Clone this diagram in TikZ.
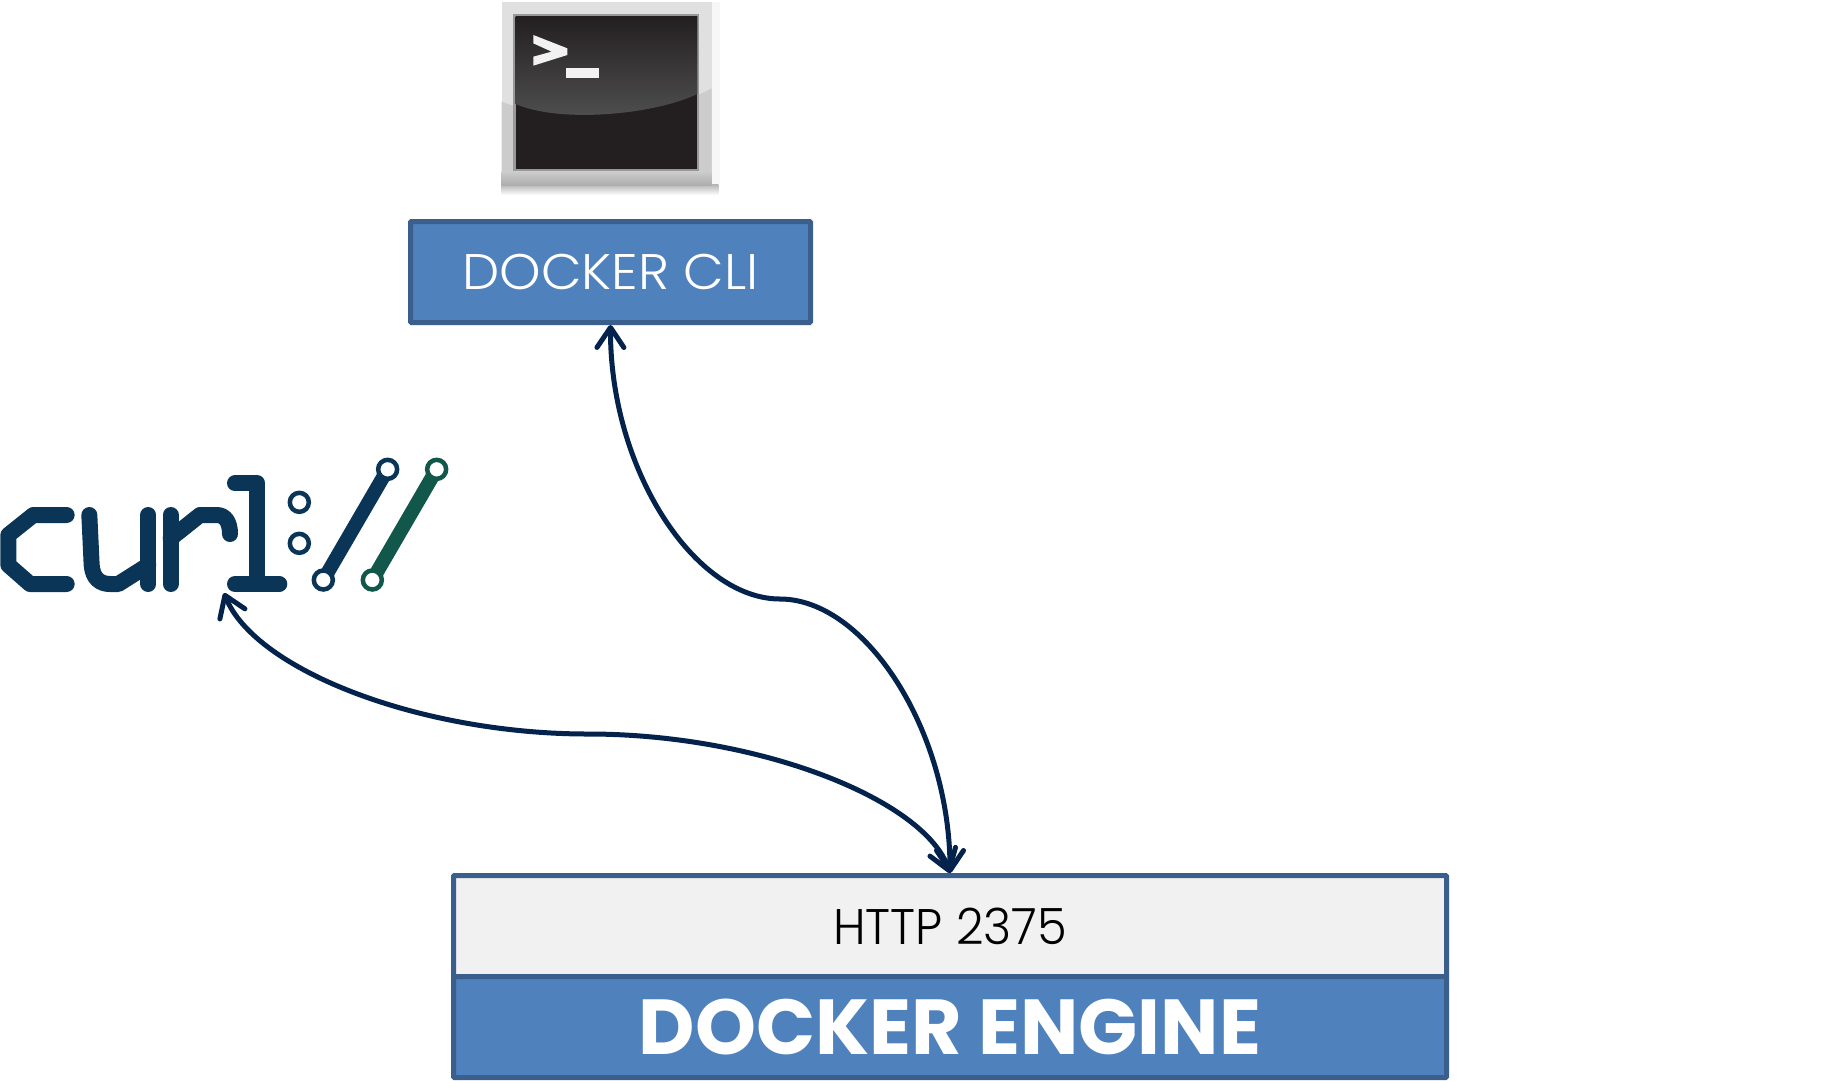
\documentclass[tikz,border=0pt]{standalone}
\usepackage{fontspec}
\setmainfont{Poppins}[UprightFont=* Light,BoldFont=* Bold]
\usetikzlibrary{arrows.meta}
\definecolor{boxblue}{HTML}{4F81BD}
\definecolor{boxline}{HTML}{3A5F8C}
\definecolor{panel}{HTML}{F1F1F1}
\definecolor{arrowc}{HTML}{03224C}
\definecolor{curlnavy}{HTML}{0B3556}
\definecolor{curlgreen}{HTML}{11574A}
\definecolor{termdark}{HTML}{231F20}
\tikzset{
  boxstyle/.style={draw=boxline,line width=5pt,inner sep=0pt,outer sep=.5\pgflinewidth,rounded corners=1pt,anchor=center},
  link/.style={draw=arrowc,line width=5pt,{Straight Barb[length=20pt,width=27pt,round]}-{Straight Barb[length=20pt,width=27pt,round]}},
  logo/.style={line width=16pt,line cap=round,line join=round,color=curlnavy},
  ringn/.style={draw=curlnavy,fill=white,line width=4.5pt,circle,minimum size=19pt,inner sep=0pt}
}
\begin{document}
\begin{tikzpicture}[x=1pt,y=-1pt]
\useasboundingbox (0,0) rectangle (1821,1080);
% terminal icon
\begin{scope}[shift={(480,0)},scale=1/3]
  \fill[black!3] (695,5) rectangle (720,555);
  \shade[top color=black!30,bottom color=white] (65,552) rectangle (715,585);
  \fill[black!12] (65,5) rectangle (695,555);
  \fill[black!20] (65,305) .. controls (240,375) and (520,360) .. (695,265) -- (695,555) -- (65,555) -- cycle;
  \shade[top color=black!20,bottom color=black!32] (65,515) rectangle (695,555);
  \fill[black!40] (100,42) rectangle (656,512);
  \fill[termdark] (107,48) rectangle (652,508);
  \shade[top color=termdark,bottom color=black!68]
      (107,48) -- (652,48) -- (652,282) .. controls (520,345) and (240,370) .. (107,312) -- cycle;
  \fill[white!95!black] (160,105) -- (262,145) -- (262,165) -- (160,197) -- (160,170) -- (215,155) -- (160,130) -- cycle;
  \fill[white!95!black] (258,205) rectangle (358,233);
\end{scope}
% boxes
\node[boxstyle,fill=boxblue,minimum width=400pt,minimum height=101pt,text=white] (cli) at (610.5,272) {\raisebox{-1pt}{\scalebox{1.055}[1]{\fontsize{50}{60}\selectfont DOCKER CLI}}};
\node[boxstyle,fill=panel,minimum width=993pt,minimum height=101pt,text=black] (http) at (950,926) {\raisebox{-1pt}{\scalebox{0.96}[1]{\fontsize{50}{60}\selectfont HTTP 2375}}};
\node[boxstyle,fill=boxblue,minimum width=993pt,minimum height=101pt,text=white] (engine) at (950,1027) {\raisebox{-3pt}{\scalebox{0.995}[1]{\fontsize{78}{90}\selectfont\bfseries DOCKER ENGINE}}};
% curl logo
\begin{scope}[shift={(0,440)},scale=1/3]
  \draw[logo] (200,225) -- (100,225) -- (25,285) -- (25,375) -- (90,432) -- (200,432);
  \draw[logo] (268,225) -- (275,375) .. controls (278,415) and (300,432) .. (330,432) -- (355,432) -- (445,375);
  \draw[logo] (445,225) -- (445,432);
  \draw[logo] (512,225) -- (512,432);
  \draw[logo] (512,295) -- (600,225) -- (650,225) .. controls (675,225) and (690,245) .. (690,282);
  \draw[logo] (705,130) -- (772,130) -- (772,432);
  \draw[logo] (705,432) -- (838,432);
  \draw[curlnavy,line width=14pt] (970,420) -- (1163,88);
  \draw[curlgreen,line width=14pt] (1117,420) -- (1310,88);
  \node[ringn] (colona) at (898,187) {};
  \node[ringn] (colonb) at (898,310) {};
  \node[ringn] (sla) at (970,420) {};
  \node[ringn] (slb) at (1163,88) {};
  \node[ringn,draw=curlgreen] (slc) at (1117,420) {};
  \node[ringn,draw=curlgreen] (sld) at (1310,88) {};
\end{scope}
% connectors
\coordinate (curltip) at (224,593);
\draw[link] (cli.south) .. controls (610,470) and (695,599) .. (780,599) .. controls (865,599) and (950,730) .. (http.north);
\draw[link] (curltip) .. controls (255,670) and (420,734) .. (588,734) .. controls (760,734) and (925,800) .. (http.north);
\end{tikzpicture}
\end{document}
